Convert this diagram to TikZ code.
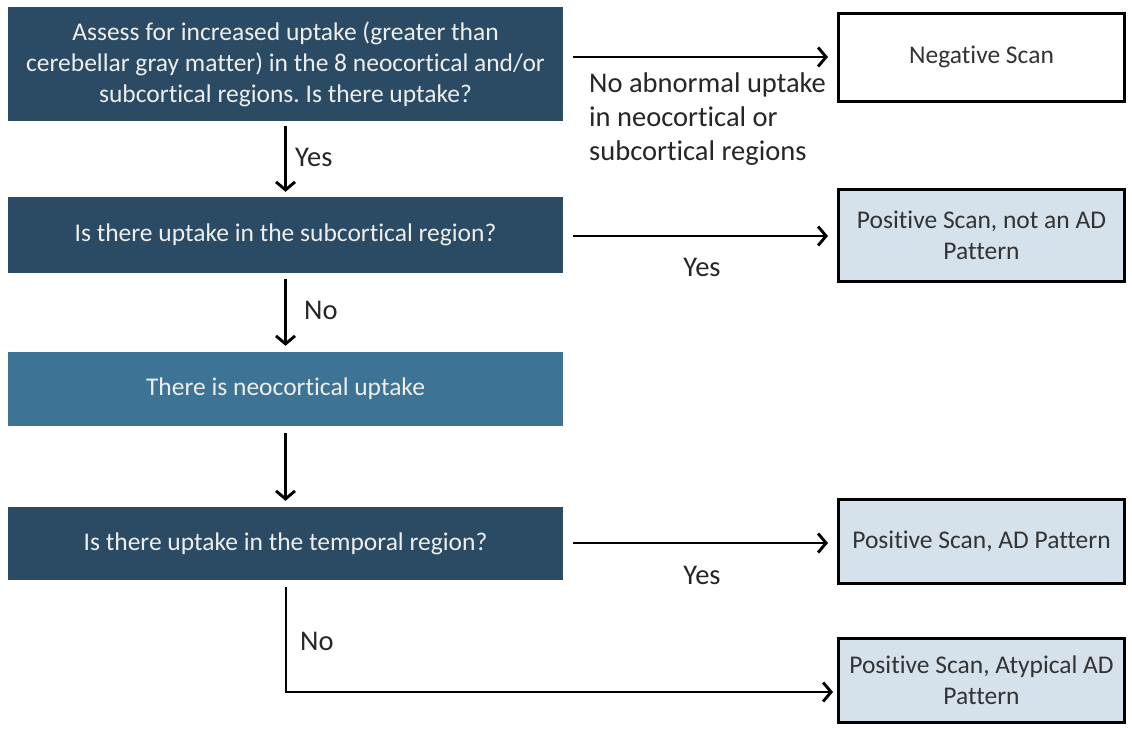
\documentclass[tikz,border=0pt]{standalone}
\usepackage{fontspec}
\setmainfont{Carlito}[Ligatures=NoCommon]
\frenchspacing
\usetikzlibrary{arrows.meta}
\definecolor{darkbox}{HTML}{2A4B63}
\definecolor{midbox}{HTML}{3D7394}
\definecolor{lightbox}{HTML}{D5E2EC}
\definecolor{boxtext}{HTML}{EEEEEE}
\tikzset{
  qbox/.style={draw=none, fill=darkbox, text=boxtext, minimum width=555pt, align=center, inner sep=0pt, font=\fontsize{25.5}{31}\selectfont},
  rbox/.style={draw=black, line width=3pt, fill=lightbox, text=black!80, minimum width=286pt, align=center, inner sep=0pt, font=\fontsize{25.5}{31}\selectfont},
  conn/.style={line width=2.9pt, -{Straight Barb[length=8pt, width=19pt, line width=2.9pt]}},
  lbl/.style={font=\fontsize{28.5}{34}\selectfont, text=black!85, inner sep=0pt},
}
\begin{document}
\begin{tikzpicture}[x=1pt, y=-1pt]
\useasboundingbox (0,0) rectangle (1132,728);
\fill[white] (0,0) rectangle (1132,728);
% left boxes
\node[qbox, minimum height=114pt] (b1) at (285.5,64) {Assess for increased uptake (greater than\\cerebellar gray matter) in the 8 neocortical and/or\\subcortical regions. Is there uptake?};
\node[qbox, minimum height=76pt] (b2) at (285.5,235) {Is there uptake in the subcortical region?};
\node[qbox, fill=midbox, minimum height=74pt] (b3) at (285.5,389) {There is neocortical uptake};
\node[qbox, minimum height=73pt] (b4) at (285.5,543.5) {Is there uptake in the temporal region?};
% right boxes
\node[rbox, fill=white, minimum height=88pt] (r1) at (981.5,57) {Negative Scan};
\node[rbox, minimum height=92pt] (r2) at (981.5,235) {Positive Scan, not an AD\\Pattern};
\node[rbox, minimum height=84pt] (r3) at (981.5,541) {Positive Scan, AD Pattern};
\node[rbox, minimum height=84pt] (r4) at (981.5,680) {Positive Scan, Atypical AD\\Pattern};
% coordinates
\coordinate (a1s) at (573,57);
\coordinate (a1e) at (828,57);
\coordinate (a2s) at (573,236);
\coordinate (a2e) at (828,236);
\coordinate (a3s) at (573,543);
\coordinate (a3e) at (828,543);
\coordinate (bend) at (286,692);
\coordinate (a4e) at (833,692);
% connectors
\draw[conn, shorten <=5pt, shorten >=5pt] (b1.south) -- (b2.north);
\draw[conn, shorten <=6pt, shorten >=6pt] (b2.south) -- (b3.north);
\draw[conn, shorten <=7pt, shorten >=6pt] (b3.south) -- (b4.north);
\draw[conn] (a1s) -- (a1e);
\draw[conn] (a2s) -- (a2e);
\draw[conn] (a3s) -- (a3e);
\draw[conn, shorten <=7pt] (b4.south -| bend) -- (bend) -- (a4e);
% labels
\node[lbl, anchor=west] (l1) at (295,157) {Yes};
\node[lbl, anchor=west] (l2) at (304,310) {No};
\node[lbl, anchor=north west, align=left] (l3) at (589,73) {No abnormal uptake\\in neocortical or\\subcortical regions};
\node[lbl] (l4) at (702,267) {Yes};
\node[lbl] (l5) at (702,575) {Yes};
\node[lbl, anchor=west] (l6) at (300,641) {No};
\end{tikzpicture}
\end{document}
